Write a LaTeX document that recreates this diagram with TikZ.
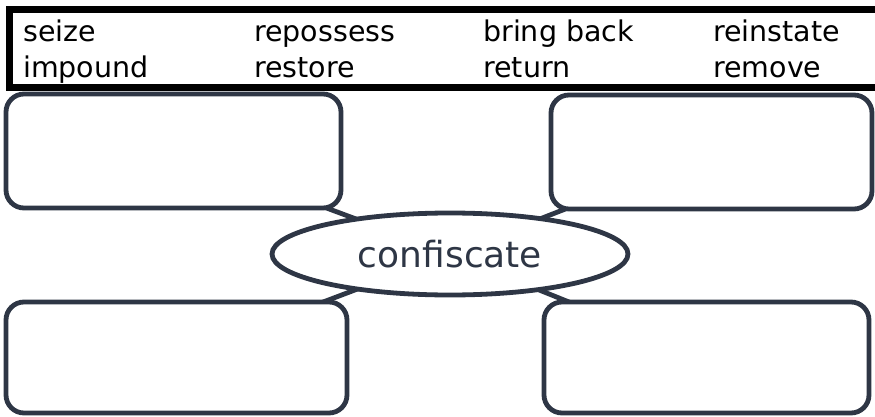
\documentclass[tikz,border=0pt]{standalone}
\usepackage{fontspec}
\setmainfont{DejaVu Sans}
\usetikzlibrary{shapes.geometric,backgrounds}
\definecolor{slate}{RGB}{46,54,69}
\tikzset{
  word/.style={anchor=base west, inner sep=0pt, font=\fontsize{28.5}{30}\selectfont, text=black},
  answerbox/.style={draw=slate, line width=4.8pt, fill=white, rounded corners=18pt, inner sep=0pt},
  hub/.style={ellipse, draw=slate, line width=4.8pt, fill=white, inner sep=0pt,
              minimum width=356pt, minimum height=82pt, text=slate,
              font=\fontsize{36}{40}\selectfont},
  link/.style={draw=slate, line width=4.8pt}
}
\begin{document}
\begin{tikzpicture}[x=1pt,y=-1pt]
\useasboundingbox (0,0) rectangle (875,417);

% word bank frame, running off the right edge
\draw[line width=6.5pt, black] (900,9.7) -- (9.5,9.7) -- (9.5,87.5) -- (900,87.5);

% word bank
\node[word] (w1) at (23,42) {seize};
\node[word] (w2) at (254,42) {repossess};
\node[word] (w3) at (483,42) {bring back};
\node[word] (w4) at (713,42) {reinstate};
\node[word] (w5) at (23,78) {impound};
\node[word] (w6) at (254,78) {restore};
\node[word] (w7) at (483,78) {return};
\node[word] (w8) at (713,78) {remove};

% empty answer boxes
\node[answerbox, minimum width=335pt, minimum height=114pt] (tl) at (173.5,151) {};
\node[answerbox, minimum width=321pt, minimum height=114pt] (tr) at (711.5,152) {};
\node[answerbox, minimum width=341pt, minimum height=111pt] (bl) at (176.5,357.5) {};
\node[answerbox, minimum width=325pt, minimum height=111pt] (br) at (706.5,357.5) {};

% central word
\node[hub] (c) at (450,254) {confiscate};

% spokes behind the shapes
\begin{scope}[on background layer]
\draw[link] (tl.center) -- (c.center);
\draw[link] (tr.center) -- (c.center);
\draw[link] (bl.center) -- (c.center);
\draw[link] (br.center) -- (c.center);
\end{scope}
\end{tikzpicture}
\end{document}
